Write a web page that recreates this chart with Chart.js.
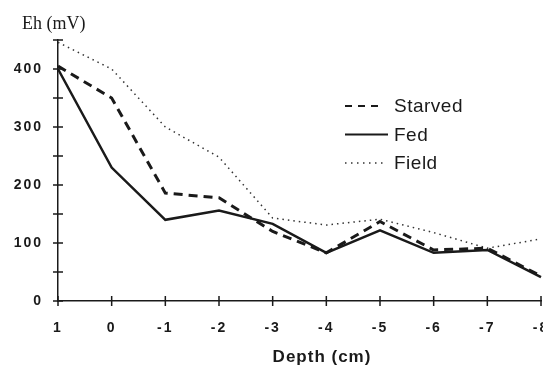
<!DOCTYPE html>
<html lang="en">
<head>
    <meta charset="UTF-8">
    <title>Eh vs Depth</title>
    <script src="https://cdn.jsdelivr.net/npm/chart.js"></script>
    <style>
        html, body { margin: 0; padding: 0; background: #fff; }
        #wrap { width: 543px; height: 368px; }
    </style>
</head>
<body>
    <div id="wrap"><canvas id="ehChart"></canvas></div>

    <script>
        // data
        const depthLabels = ['1', '0', '-1', '-2', '-3', '-4', '-5', '-6', '-7', '-8'];
        const starved = [405, 350, 186, 178, 120, 83, 137, 88, 91, 43];
        const fed = [400, 230, 140, 156, 133, 83, 122, 83, 88, 41];
        const field = [446, 400, 300, 248, 143, 131, 141, 118, 91, 107];
        const yLabelled = [0, 100, 200, 300, 400];

        const ink = '#1a1a1a';
        const sans = "'Liberation Sans', Arial, sans-serif";

        // spaced-out tick labels; canvas resizes reset the ctx so set it each pass
        const spacing = {
            id: 'spacing',
            beforeUpdate(chart) { chart.ctx.letterSpacing = '2px'; },
            beforeLayout(chart) { chart.ctx.letterSpacing = '2px'; },
            beforeDraw(chart) { chart.ctx.letterSpacing = '2px'; }
        };

        // crossing tick marks, axis titles and the inset legend
        const decor = {
            id: 'decor',
            afterDraw(chart) {
                const ctx = chart.ctx;
                const x = chart.scales.x, y = chart.scales.y;
                const area = chart.chartArea;
                ctx.save();
                ctx.letterSpacing = '0px';
                ctx.strokeStyle = ink;
                ctx.lineWidth = 1.5;
                ctx.setLineDash([]);
                ctx.beginPath();
                y.ticks.forEach(t => {
                    const py = y.getPixelForValue(t.value);
                    ctx.moveTo(area.left - 5, py);
                    ctx.lineTo(area.left + 5, py);
                });
                depthLabels.forEach((l, i) => {
                    const px = x.getPixelForValue(i);
                    ctx.moveTo(px, area.bottom - 5);
                    ctx.lineTo(px, area.bottom + 5);
                });
                ctx.stroke();

                // y title
                ctx.fillStyle = ink;
                ctx.font = "18px 'Liberation Serif', 'Times New Roman', serif";
                ctx.textBaseline = 'alphabetic';
                ctx.textAlign = 'left';
                ctx.fillText('Eh (mV)', 22, 29);

                // x title
                ctx.font = 'bold 17px ' + sans;
                ctx.letterSpacing = '1px';
                ctx.textAlign = 'center';
                ctx.fillText('Depth (cm)', 322, 362);

                // legend
                ctx.letterSpacing = '0.5px';
                ctx.font = '19px ' + sans;
                ctx.textAlign = 'left';
                ctx.textBaseline = 'middle';
                chart.data.datasets.forEach((ds, i) => {
                    const ly = 106 + i * 28.5;
                    ctx.strokeStyle = ds.borderColor;
                    ctx.lineWidth = Math.min(ds.borderWidth, 2);
                    ctx.setLineDash(ds.legendDash || []);
                    ctx.beginPath();
                    ctx.moveTo(345, ly);
                    ctx.lineTo(ds.legendEnd, ly);
                    ctx.stroke();
                    ctx.fillText(ds.label, 394, ly + 1);
                });
                ctx.restore();
            }
        };

        const ctx = document.getElementById('ehChart').getContext('2d');
        new Chart(ctx, {
            type: 'line',
            data: {
                labels: depthLabels,
                datasets: [
                    { label: 'Starved', data: starved, borderColor: ink, borderWidth: 3, borderDash: [9, 6], legendDash: [7, 6], legendEnd: 378 },
                    { label: 'Fed', data: fed, borderColor: ink, borderWidth: 2.5, legendEnd: 388 },
                    { label: 'Field', data: field, borderColor: '#333', borderWidth: 1.5, borderDash: [1.5, 4], legendDash: [1.5, 4.5], legendEnd: 384 }
                ]
            },
            options: {
                responsive: true,
                maintainAspectRatio: false,
                animation: false,
                elements: { point: { radius: 0 }, line: { tension: 0 } },
                layout: { padding: { top: 40, right: 2, left: 0, bottom: 0 } },
                plugins: {
                    legend: { display: false },
                    tooltip: { enabled: false }
                },
                scales: {
                    x: {
                        offset: false,
                        grid: { display: false },
                        border: { display: true, color: ink, width: 1.5 },
                        ticks: {
                            color: ink,
                            padding: 11,
                            maxRotation: 0,
                            autoSkip: false,
                            font: { family: sans, size: 14, weight: 'bold' }
                        },
                        afterFit(scale) {
                            scale.height = 67;
                            scale.paddingLeft = 0;
                            scale.paddingRight = 0;
                        }
                    },
                    y: {
                        min: 0,
                        max: 450,
                        grid: { display: false },
                        border: { display: true, color: ink, width: 1.5 },
                        ticks: {
                            stepSize: 50,
                            color: ink,
                            padding: 7,
                            font: { family: sans, size: 14, weight: 'bold' },
                            callback: v => yLabelled.includes(v) ? v : ''
                        },
                        afterFit(scale) {
                            scale.width = 58;
                        }
                    }
                }
            },
            plugins: [spacing, decor]
        });
    </script>
</body>
</html>
